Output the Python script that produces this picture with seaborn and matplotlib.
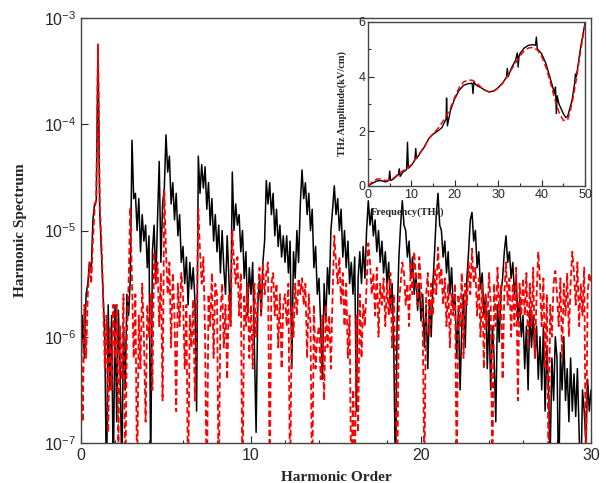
import numpy as np
import pandas as pd
import matplotlib
matplotlib.use("Agg")
import matplotlib.pyplot as plt
import seaborn as sns
from matplotlib.ticker import MultipleLocator, LogLocator, NullLocator

# ===========================
# Data
# ===========================

# harmonic order sampled every 0.1, spectrum stored as log10 values
order = np.round(np.linspace(0, 30, 301), 1)

log_black = [
    -6.3, -5.8, -6.2, -5.6, -5.5, -5.3, -5.4, -4.9, -4.75, -4.72,
    -3.26, -4.8, -5.2, -5.6, -6.0, -7.5, -5.7, -6.5, -5.8, -7.4,
    -5.7, -6.8, -5.75, -6.3, -7.3, -5.9, -6.5, -5.6, -5.8, -5.45,
    -4.15, -4.7, -4.65, -5.0, -4.7, -5.2, -4.85, -5.1, -4.95, -5.35,
    -5.05, -7.3, -5.2, -4.95, -5.5, -4.9, -4.35, -5.3, -4.75, -4.6,
    -4.1, -4.45, -4.3, -4.75, -4.55, -4.9, -4.65, -5.05, -4.85, -5.3,
    -5.15, -5.5, -5.25, -5.7, -5.3, -5.55, -5.35, -5.65, -6.7, -4.3,
    -4.65, -4.38, -4.6, -4.4, -4.8, -4.55, -4.95, -4.7, -5.1, -4.85,
    -5.2, -4.95, -5.4, -5.0, -5.35, -5.6, -5.05, -5.45, -5.9, -4.45,
    -5.0, -4.75, -4.95, -4.85, -5.2, -5.0, -5.45, -5.2, -5.8, -5.35,
    -5.6, -5.3, -6.1, -6.9, -5.7, -5.45, -5.8, -5.3, -5.1, -4.53,
    -4.75, -4.55, -4.85, -4.65, -5.05, -4.8, -5.15, -4.95, -5.25, -5.05,
    -5.3, -5.05, -5.4, -5.1, -6.3, -5.2, -5.45, -5.0, -5.3, -4.75,
    -4.43, -4.7, -4.55, -4.85, -4.65, -5.0, -4.8, -5.35, -5.15, -5.6,
    -5.45, -5.9, -6.4, -5.5, -5.85, -5.35, -5.6, -5.0, -4.8, -4.58,
    -4.85, -4.7, -5.0, -4.8, -5.25, -5.0, -5.35, -5.1, -5.5, -5.3,
    -5.6, -5.25, -6.7, -5.45, -5.2, -5.5, -5.15, -5.45, -5.0, -4.72,
    -4.95, -4.8, -5.05, -4.9, -5.2, -5.0, -5.3, -5.1, -5.4, -5.2,
    -5.5, -5.3, -5.75, -5.5, -6.1, -7.4, -5.8, -5.25, -4.95, -4.72,
    -4.95, -5.0, -5.25, -5.1, -5.45, -5.25, -5.6, -5.4, -5.75, -5.5,
    -5.85, -5.6, -6.1, -5.7, -6.3, -5.65, -6.0, -5.5, -5.2, -4.85,
    -4.65, -4.95, -5.0, -5.25, -5.1, -5.4, -5.2, -5.6, -5.35, -5.75,
    -5.6, -6.2, -5.75, -6.5, -5.9, -5.6, -6.1, -5.45, -5.2, -4.9,
    -4.83, -5.1, -5.0, -5.35, -5.2, -5.55, -5.4, -5.8, -5.6, -6.3,
    -5.75, -6.5, -5.9, -6.2, -6.8, -5.7, -6.05, -5.6, -5.45, -5.2,
    -5.05, -5.3, -5.2, -5.45, -5.3, -5.6, -5.45, -5.85, -5.65, -6.0,
    -5.8, -6.3, -5.9, -6.5, -5.75, -6.1, -5.8, -6.2, -5.9, -6.4,
    -6.0, -6.5, -5.9, -6.7, -6.1, -6.5, -7.1, -6.2, -6.6, -6.0,
    -6.2, -7.5, -6.15, -6.5, -6.0, -6.6, -6.3, -6.8, -6.2, -6.7,
    -6.35, -6.75, -6.3, -6.9, -7.4, -6.5, -6.7, -7.0, -6.4, -6.7,
    -6.5,
]

log_red = [
    -6.0, -6.8, -5.7, -6.2, -5.6, -5.3, -5.5, -5.1, -4.8, -4.7,
    -3.24, -4.75, -5.1, -5.6, -6.3, -5.8, -6.9, -5.9, -6.5, -5.7,
    -6.2, -5.7, -7.0, -5.9, -6.4, -5.6, -7.5, -6.0, -5.5, -4.78,
    -5.5, -6.2, -5.6, -7.4, -5.8, -6.3, -5.5, -6.0, -6.8, -5.7,
    -6.0, -5.6, -6.5, -5.2, -5.5, -5.3, -5.9, -5.4, -6.6, -4.62,
    -5.2, -5.6, -5.3, -6.1, -5.4, -5.8, -6.7, -5.5, -5.9, -5.4,
    -5.6, -6.3, -5.7, -7.5, -5.8, -6.1, -5.65, -6.6, -5.9, -4.8,
    -5.2, -5.5, -5.25, -6.0, -7.6, -5.6, -5.9, -5.4, -6.2, -5.5,
    -5.6, -7.5, -5.8, -5.5, -6.1, -5.7, -6.4, -5.6, -5.9, -5.0,
    -5.3, -5.5, -5.25, -5.8, -5.4, -7.6, -5.6, -5.9, -5.5, -6.2,
    -5.7, -6.3, -5.5, -6.0, -5.6, -5.35, -5.8, -5.3, -5.6, -5.4,
    -5.3, -7.4, -5.5, -5.4, -5.8, -5.5, -6.1, -5.6, -6.3, -5.7,
    -5.6, -5.9, -5.5, -7.5, -5.7, -6.0, -5.5, -5.8, -5.45, -5.6,
    -5.45, -5.7, -5.5, -6.2, -5.6, -5.9, -7.5, -5.7, -6.3, -6.0,
    -5.9, -6.4, -5.8, -6.6, -5.7, -6.1, -5.8, -6.3, -5.6, -5.05,
    -5.3, -5.5, -5.25, -5.7, -5.4, -5.9, -5.5, -6.2, -5.8, -7.5,
    -6.5, -7.6, -5.8, -6.9, -5.6, -6.2, -5.7, -5.9, -5.5, -5.12,
    -5.3, -5.6, -5.4, -5.8, -5.35, -6.0, -5.5, -5.7, -5.45, -5.9,
    -5.5, -5.8, -5.4, -6.1, -5.6, -6.3, -7.4, -5.7, -5.5, -5.3,
    -5.4, -5.7, -5.5, -5.9, -5.3, -5.6, -5.2, -5.45, -5.7, -5.25,
    -5.5, -5.9, -7.3, -5.6, -5.4, -6.0, -5.5, -5.8, -5.35, -5.6,
    -5.16, -5.5, -5.35, -5.7, -5.45, -5.9, -5.5, -6.1, -5.6, -5.8,
    -5.5, -7.4, -5.6, -5.9, -5.4, -6.2, -5.5, -5.7, -5.3, -5.6,
    -5.17, -5.5, -5.35, -5.8, -5.45, -6.0, -5.5, -6.3, -5.6, -5.9,
    -5.4, -5.7, -7.4, -5.5, -5.9, -5.35, -5.8, -5.5, -6.4, -5.6,
    -5.3, -5.7, -5.45, -6.0, -5.5, -5.9, -5.35, -6.6, -5.5, -5.8,
    -5.45, -5.8, -5.4, -6.1, -5.5, -5.9, -5.35, -6.2, -5.6, -5.2,
    -5.5, -5.9, -5.45, -6.3, -5.6, -7.2, -5.7, -6.0, -5.5, -5.38,
    -5.6, -5.9, -5.45, -6.2, -5.5, -5.8, -5.4, -6.0, -5.5, -5.2,
    -5.4, -5.7, -5.3, -5.9, -5.5, -5.8, -5.35, -7.3, -5.6, -5.4,
    -5.5,
]

# inset: THz amplitude (kV/cm) vs frequency (THz)
freq_black = [0, 1, 2, 3, 4, 4.8, 5.0, 5.2, 6, 7, 7.2, 7.4, 8, 8.9, 9.1, 9.3,
              10, 10.8, 11.0, 11.2, 12, 13, 14, 15, 16, 17, 18, 18.1, 18.3,
              19, 20, 21, 22, 23, 24, 24.2, 24.4, 25, 26, 27, 28, 29, 30, 31,
              31.9, 32.1, 32.3, 33, 34, 34.4, 34.6, 34.8, 35, 36, 37, 38, 38.6,
              38.8, 39, 40, 41, 42, 43, 43.2, 43.4, 43.6, 44, 45, 45.6, 46, 47,
              47.6, 47.8, 48, 49, 50]
amp_black = [0.0, 0.1, 0.18, 0.2, 0.15, 0.2, 0.55, 0.2, 0.27, 0.42, 0.63, 0.35,
             0.5, 0.6, 1.6, 0.65, 0.75, 0.95, 1.37, 1.0, 1.2, 1.43, 1.73, 1.9,
             2.0, 2.13, 2.45, 3.22, 2.2, 2.77, 3.2, 3.5, 3.68, 3.74, 3.76, 3.38,
             3.8, 3.68, 3.6, 3.5, 3.44, 3.48, 3.6, 3.77, 3.98, 4.3, 4.0, 4.3,
             4.6, 4.87, 4.35, 4.75, 4.84, 5.05, 5.15, 5.17, 5.15, 5.45, 5.02,
             4.84, 4.48, 3.93, 3.38, 3.62, 2.65, 3.3, 3.0, 2.65, 2.5, 2.55,
             3.13, 3.75, 4.1, 3.99, 5.08, 5.96]

freq_red = list(range(0, 51))
amp_red = [0.0, 0.15, 0.25, 0.26, 0.2, 0.22, 0.3, 0.45, 0.55, 0.65, 0.78, 1.0,
           1.22, 1.45, 1.72, 1.92, 2.08, 2.3, 2.55, 2.85, 3.25, 3.6, 3.8, 3.88,
           3.87, 3.78, 3.62, 3.5, 3.43, 3.47, 3.58, 3.75, 3.98, 4.25, 4.5,
           4.75, 4.95, 5.05, 5.07, 4.98, 4.75, 4.35, 3.8, 3.2, 2.7, 2.4, 2.42,
           3.0, 3.9, 4.95, 5.9]

df = pd.DataFrame({
    "order": order,
    "black": 10.0 ** np.array(log_black),
    "red": 10.0 ** np.array(log_red),
})
df_in_black = pd.DataFrame({"freq": freq_black, "amp": amp_black})
df_in_red = pd.DataFrame({"freq": freq_red, "amp": amp_red})

# ===========================
# Plot
# ===========================

sns.set_style("ticks")
plt.rcParams["font.family"] = ["Liberation Sans", "DejaVu Sans"]
plt.rcParams["mathtext.fontset"] = "custom"
plt.rcParams["mathtext.rm"] = "Liberation Sans"
plt.rcParams["axes.edgecolor"] = "#444444"

fig = plt.figure(figsize=(6.06, 4.83), dpi=100)
ax = fig.add_axes([81 / 606, 40 / 483, 510 / 606, 425 / 483])

sns.lineplot(data=df, x="order", y="black", ax=ax, color="black", lw=1.1,
             estimator=None, sort=False)
sns.lineplot(data=df, x="order", y="red", ax=ax, color="red", lw=1.3,
             linestyle=(0, (3.5, 1.8)), estimator=None, sort=False)

ax.set_yscale("log")
ax.set_xlim(0, 30)
ax.set_ylim(1e-7, 1e-3)
ax.xaxis.set_major_locator(MultipleLocator(10))
ax.xaxis.set_minor_locator(MultipleLocator(2))
ax.yaxis.set_major_locator(LogLocator(base=10))
ax.yaxis.set_minor_locator(NullLocator())
ax.tick_params(which="both", direction="in", labelsize=11.5, width=0.8)
ax.tick_params(which="major", length=5)
ax.tick_params(which="minor", length=2.5)
for s in ax.spines.values():
    s.set_linewidth(1.0)

ax.set_xlabel("Harmonic Order", family="Liberation Serif", fontweight="bold",
              fontsize=11, labelpad=6)
ax.set_ylabel("Harmonic Spectrum", family="Liberation Serif", fontweight="bold",
              fontsize=11, labelpad=12)

# inset
ins = fig.add_axes([368 / 606, 297 / 483, 217 / 606, 164 / 483])
ins.set_facecolor("white")
sns.lineplot(data=df_in_black, x="freq", y="amp", ax=ins, color="black",
             lw=1.0, estimator=None, sort=False)
sns.lineplot(data=df_in_red, x="freq", y="amp", ax=ins, color="red", lw=1.1,
             linestyle=(0, (4, 2)), estimator=None, sort=False)
ins.set_xlim(0, 50)
ins.set_ylim(0, 6)
ins.xaxis.set_major_locator(MultipleLocator(10))
ins.xaxis.set_minor_locator(MultipleLocator(5))
ins.yaxis.set_major_locator(MultipleLocator(2))
ins.yaxis.set_minor_locator(MultipleLocator(1))
ins.tick_params(which="both", direction="in", labelsize=9, width=0.8, pad=2)
ins.tick_params(which="major", length=4)
ins.tick_params(which="minor", length=2)
for s in ins.spines.values():
    s.set_linewidth(1.0)

ins.set_xlabel("Frequency(THz)", family="Liberation Serif", fontweight="bold",
               fontsize=7.5)
ins.xaxis.set_label_coords(0.185, -0.13)
ins.set_ylabel("THz Amplitude(kV/cm)", family="Liberation Serif",
               fontweight="bold", fontsize=7.5)
ins.yaxis.set_label_coords(-0.095, 0.5)

fig.savefig("out.png", dpi=100)
plt.close()
